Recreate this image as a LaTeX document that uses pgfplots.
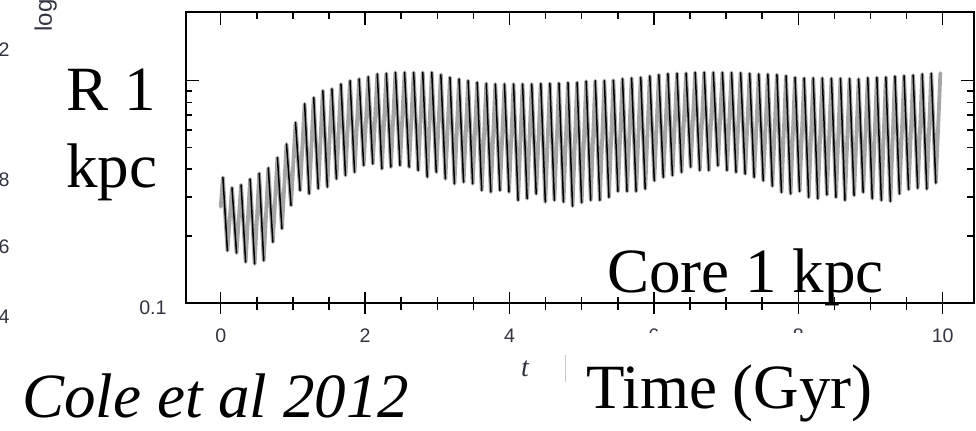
\documentclass[border=0pt]{standalone}
\usepackage{fontspec}
\setmainfont{Liberation Serif}
\newfontfamily\lsans{Liberation Sans}
\usepackage{pgfplots}
\usepackage{pgfplotstable}
\pgfplotsset{compat=1.18}
\definecolor{ticklab}{RGB}{50,52,64}
\definecolor{curvegray}{RGB}{165,165,165}
\definecolor{boxedge}{RGB}{200,200,200}

% Orbital radius (kpc) against time (Gyr): apocentre, pericentre, then a break,
% so that the falling half of every oscillation can be inked separately.
\pgfplotstableread{
t r
0.000 0.271
nan nan
0.030 0.367
0.093 0.172
nan nan
0.156 0.330
0.219 0.168
nan nan
0.282 0.340
0.345 0.153
nan nan
0.407 0.361
0.470 0.150
nan nan
0.533 0.383
0.596 0.155
nan nan
0.659 0.405
0.722 0.188
nan nan
0.785 0.451
0.848 0.216
nan nan
0.911 0.519
0.974 0.275
nan nan
1.036 0.648
1.099 0.321
nan nan
1.162 0.787
1.225 0.310
nan nan
1.288 0.840
1.351 0.327
nan nan
1.414 0.902
1.477 0.333
nan nan
1.540 0.919
1.603 0.362
nan nan
1.665 0.966
1.728 0.375
nan nan
1.791 1.000
1.854 0.388
nan nan
1.917 1.018
1.980 0.416
nan nan
2.043 1.042
2.106 0.423
nan nan
2.169 1.072
2.232 0.402
nan nan
2.294 1.079
2.357 0.409
nan nan
2.420 1.090
2.483 0.416
nan nan
2.546 1.090
2.609 0.409
nan nan
2.672 1.090
2.735 0.395
nan nan
2.798 1.090
2.861 0.369
nan nan
2.923 1.090
2.986 0.388
nan nan
3.049 1.064
3.112 0.362
nan nan
3.175 1.035
3.238 0.344
nan nan
3.301 1.018
3.364 0.350
nan nan
3.427 1.000
3.490 0.344
nan nan
3.552 0.983
3.615 0.321
nan nan
3.678 0.972
3.741 0.316
nan nan
3.804 0.966
3.867 0.321
nan nan
3.930 0.966
3.993 0.316
nan nan
4.056 0.966
4.119 0.290
nan nan
4.181 0.966
4.244 0.295
nan nan
4.307 0.966
4.370 0.310
nan nan
4.433 0.970
4.496 0.285
nan nan
4.559 0.972
4.622 0.290
nan nan
4.685 0.975
4.748 0.285
nan nan
4.810 0.980
4.873 0.273
nan nan
4.936 0.983
4.999 0.283
nan nan
5.062 0.995
5.125 0.290
nan nan
5.188 1.000
5.251 0.290
nan nan
5.314 1.000
5.377 0.299
nan nan
5.439 1.005
5.502 0.318
nan nan
5.565 1.020
5.628 0.318
nan nan
5.691 1.028
5.754 0.318
nan nan
5.817 1.035
5.880 0.326
nan nan
5.943 1.050
6.006 0.355
nan nan
6.068 1.064
6.131 0.368
nan nan
6.194 1.075
6.257 0.375
nan nan
6.320 1.079
6.383 0.388
nan nan
6.446 1.082
6.509 0.409
nan nan
6.572 1.090
6.635 0.395
nan nan
6.697 1.090
6.760 0.395
nan nan
6.823 1.090
6.886 0.415
nan nan
6.949 1.090
7.012 0.395
nan nan
7.075 1.088
7.138 0.388
nan nan
7.201 1.085
7.264 0.381
nan nan
7.326 1.078
7.389 0.368
nan nan
7.452 1.072
7.515 0.355
nan nan
7.578 1.070
7.641 0.336
nan nan
7.704 1.065
7.767 0.315
nan nan
7.830 1.053
7.893 0.310
nan nan
7.955 1.035
8.018 0.318
nan nan
8.081 1.028
8.144 0.299
nan nan
8.207 1.028
8.270 0.295
nan nan
8.333 1.028
8.396 0.307
nan nan
8.459 1.025
8.522 0.299
nan nan
8.584 1.025
8.647 0.290
nan nan
8.710 1.022
8.773 0.305
nan nan
8.836 1.018
8.899 0.315
nan nan
8.962 1.030
9.025 0.295
nan nan
9.088 1.035
9.151 0.290
nan nan
9.213 1.038
9.276 0.287
nan nan
9.339 1.048
9.402 0.310
nan nan
9.465 1.053
9.528 0.324
nan nan
9.591 1.060
9.654 0.329
nan nan
9.717 1.072
9.780 0.326
nan nan
9.842 1.079
9.905 0.347
nan nan
9.968 1.082
}\orbit

\begin{document}
\begin{tikzpicture}
% curve and the lower ticks, which cross the axis line
\begin{axis}[
  at={(93pt,-151.5pt)}, anchor=south west,
  width=393.75pt, height=145.3pt, scale only axis,
  xmin=-0.481, xmax=10.427,
  ymode=log, ymin=0.1, ymax=2.03,
  axis line style={line width=1pt, black},
  every tick/.style={black, line width=0.75pt},
  xtick={0,2,4,6,8,10}, minor x tick num=3,
  xtick pos=left, tick align=center,
  major tick length=11pt, minor tick length=6.5pt,
  xticklabels={0,2,4,6,8,10},
  xticklabel style={font=\lsans\fontsize{9.8}{11}\selectfont, text=ticklab, anchor=north, inner sep=0pt, yshift=-7.3pt},
  ytick=\empty,
]
\addplot[curvegray, line width=1.9pt, line join=round, line cap=round, unbounded coords=discard]
  table[x=t, y=r] {\orbit};
\addplot[black, line width=0.75pt, line join=round, line cap=round, unbounded coords=jump]
  table[x=t, y=r] {\orbit};
\end{axis}
% upper and side ticks, pointing inwards
\begin{axis}[
  at={(93pt,-151.5pt)}, anchor=south west,
  width=393.75pt, height=145.3pt, scale only axis,
  xmin=-0.481, xmax=10.427,
  ymode=log, ymin=0.1, ymax=2.03,
  axis line style={line width=1pt, black},
  every tick/.style={black, line width=0.75pt},
  xtick={0,2,4,6,8,10}, minor x tick num=3,
  xtick pos=right, tick align=inside,
  major tick length=6.5pt, minor tick length=3.2pt,
  xticklabels={},
  ytick={0.1,1}, yticklabels={0.1,{}},
  yticklabel style={font=\lsans\fontsize{9.8}{11}\selectfont, text=ticklab, anchor=east, inner sep=0pt, xshift=-9.5pt, yshift=-2.5pt},
]
\addplot[draw=none, forget plot] coordinates {(0,0.5)};
\end{axis}

\begin{scope}[x=0.5pt, y=-0.5pt]
  % pieces of the neighbouring panel at the left edge
  \begin{scope}[every node/.style={anchor=east, inner sep=0pt, font=\lsans\fontsize{9.8}{11}\selectfont, text=ticklab}]
    \node at (10,50) {2};
    \node at (10,180) {8};
    \node at (10,247) {6};
    \node at (10,317) {4};
  \end{scope}
  \node[rotate=90, anchor=base west, inner sep=0pt, font=\lsans\fontsize{12}{14}\selectfont, text=ticklab] at (52,32) {log};
  % axis label
  \node[inner sep=0pt, font=\itshape\fontsize{14}{16}\selectfont, text=ticklab] at (525,369) {t};
  % text box over the lower tick labels
  \fill[white] (565,333) rectangle (905,440);
  \draw[boxedge, line width=0.5pt] (565,355) -- (565,382);
  % annotations
  \begin{scope}[every node/.style={inner sep=0pt, anchor=base west, font=\fontsize{31.5}{38}\selectfont}]
    \node at (66,110) {R 1};
    \node at (66,187) {kpc};
    \node at (607,292) {Core 1 kpc};
    \node at (586,408) {Time (Gyr)};
    \node[font=\itshape\fontsize{31.5}{38}\selectfont] at (22,417) {Cole et al 2012};
  \end{scope}
\end{scope}
\pgfresetboundingbox
\path[use as bounding box] (0pt,0pt) rectangle (488pt,-215pt);
\end{tikzpicture}
\end{document}
